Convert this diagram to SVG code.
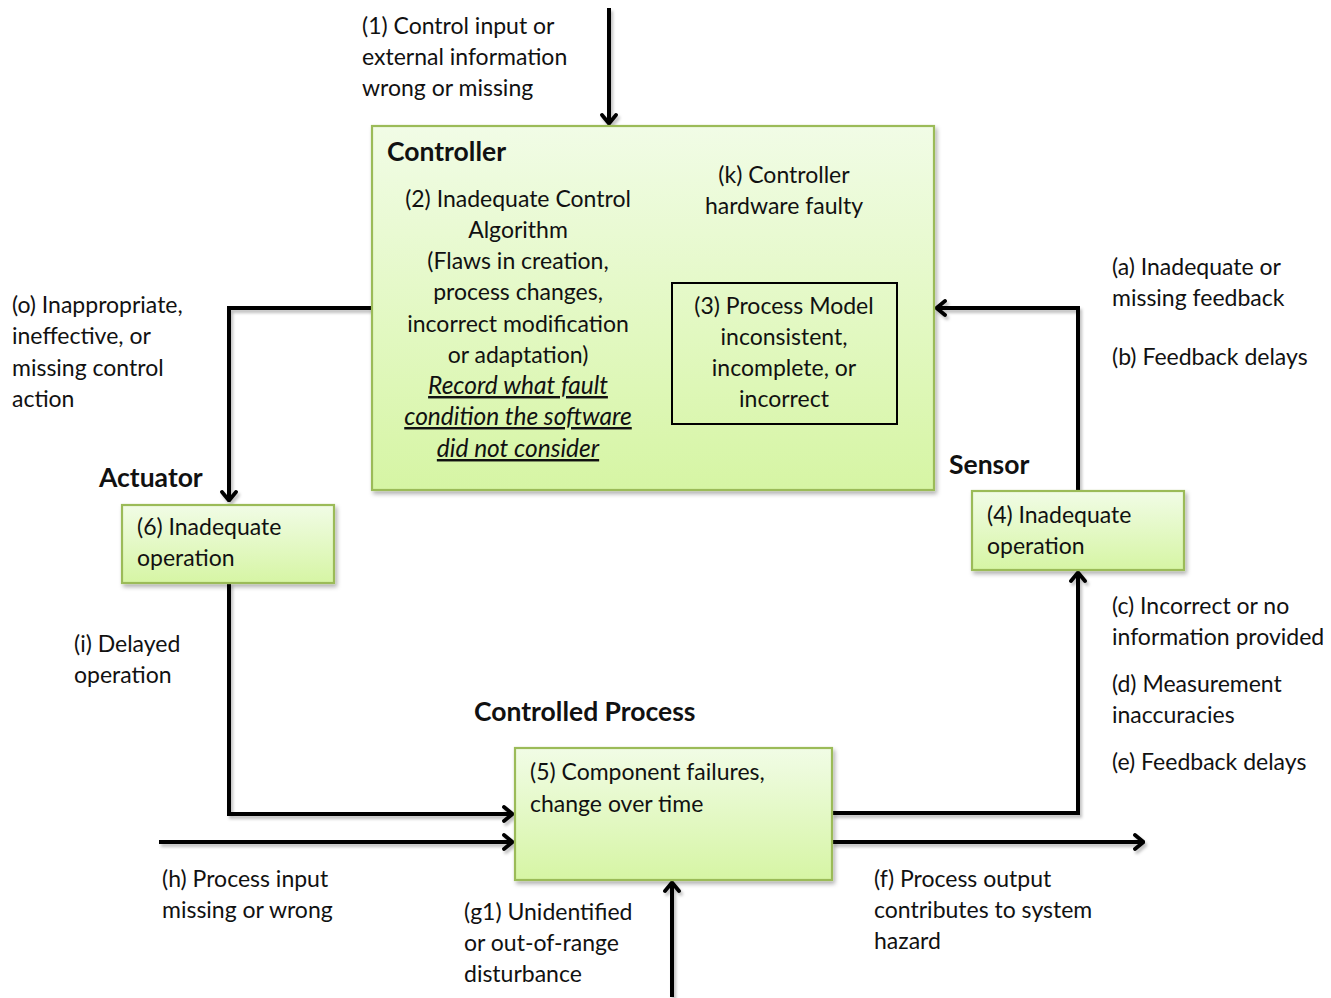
<svg xmlns="http://www.w3.org/2000/svg" width="1331" height="998" viewBox="0 0 1331 998">
  <defs>
    <linearGradient id="boxFill" x1="0" y1="0" x2="0" y2="1">
      <stop offset="0" stop-color="#f1fce6"/>
      <stop offset="1" stop-color="#d6f5a4"/>
    </linearGradient>
    <filter id="shadow" x="-10%" y="-10%" width="130%" height="130%">
      <feDropShadow dx="2" dy="3" stdDeviation="2" flood-color="#000" flood-opacity="0.3"/>
    </filter>
    <filter id="lineShadow" filterUnits="userSpaceOnUse" x="0" y="0" width="1331" height="998">
      <feDropShadow dx="2" dy="3" stdDeviation="1.5" flood-color="#000" flood-opacity="0.25"/>
    </filter>
    <marker id="arrow" viewBox="0 0 12 18" refX="11" refY="9" markerWidth="12" markerHeight="18" markerUnits="userSpaceOnUse" orient="auto">
      <path d="M2,2 L10.5,9 L2,16" fill="none" stroke="#000" stroke-width="3.8" stroke-linecap="round" stroke-linejoin="round"/>
    </marker>
    <style>
      text { font-family: Lato, "Open Sans", "Liberation Sans", sans-serif; font-size: 23px; fill: #111; }
      .b { font-weight: bold; font-size: 26.5px; }
      .c { text-anchor: middle; }
      .u { font-style: italic; text-decoration: underline; font-size: 24.5px; }
      .box { fill: url(#boxFill); stroke: #9bbb59; stroke-width: 2.2; filter: url(#shadow); }
      .conn path { fill: none; stroke: #000; stroke-width: 4; stroke-linejoin: miter; marker-end: url(#arrow); }
    </style>
  </defs>

  <!-- connectors -->
  <g id="connectors" class="conn" filter="url(#lineShadow)">
    <path d="M609,8 V124"/>
    <path d="M372,308 H229 V501"/>
    <path d="M229,583 V814 H513"/>
    <path d="M159,842 H513"/>
    <path d="M672,997 V882"/>
    <path d="M832,842 H1144"/>
    <path d="M832,813 H1078 V572"/>
    <path d="M1078,491 V308 H936"/>
  </g>

  <!-- controller -->
  <g id="controller">
    <rect class="box" x="372" y="126" width="562" height="364"/>
    <text class="b" x="387" y="161">Controller</text>
    <text class="c" x="518" y="207">(2) Inadequate Control</text>
    <text class="c" x="518" y="238">Algorithm</text>
    <text class="c" x="518" y="269">(Flaws in creation,</text>
    <text class="c" x="518" y="300">process changes,</text>
    <text class="c" x="518" y="332">incorrect modification</text>
    <text class="c" x="518" y="363">or adaptation)</text>
    <text class="c u" x="518" y="394">Record what fault</text>
    <text class="c u" x="518" y="425">condition the software</text>
    <text class="c u" x="518" y="457">did not consider</text>
    <text class="c" x="784" y="183">(k) Controller</text>
    <text class="c" x="784" y="214">hardware faulty</text>
  </g>

  <!-- process model -->
  <g id="process-model">
    <rect x="672" y="283" width="225" height="141" fill="none" stroke="#000" stroke-width="2"/>
    <text class="c" x="784" y="314">(3) Process Model</text>
    <text class="c" x="784" y="345">inconsistent,</text>
    <text class="c" x="784" y="376">incomplete, or</text>
    <text class="c" x="784" y="407">incorrect</text>
  </g>

  <!-- actuator -->
  <g id="actuator">
    <text class="b" x="99" y="487">Actuator</text>
    <rect class="box" x="122" y="505" width="212" height="78"/>
    <text x="137" y="535">(6) Inadequate</text>
    <text x="137" y="566">operation</text>
  </g>

  <!-- sensor -->
  <g id="sensor">
    <text class="b" x="949" y="474">Sensor</text>
    <rect class="box" x="972" y="491" width="212" height="79"/>
    <text x="987" y="523">(4) Inadequate</text>
    <text x="987" y="554">operation</text>
  </g>

  <!-- controlled process -->
  <g id="controlled-process">
    <text class="b" x="474" y="721">Controlled Process</text>
    <rect class="box" x="515" y="748" width="317" height="132"/>
    <text x="530" y="780">(5) Component failures,</text>
    <text x="530" y="812">change over time</text>
  </g>

  <!-- annotations -->
  <g id="labels">
    <text x="362" y="34">(1) Control input or</text>
    <text x="362" y="65">external information</text>
    <text x="362" y="96">wrong or missing</text>

    <text x="1112" y="275">(a) Inadequate or</text>
    <text x="1112" y="306">missing feedback</text>
    <text x="1112" y="365">(b) Feedback delays</text>

    <text x="12" y="313">(o) Inappropriate,</text>
    <text x="12" y="344">ineffective, or</text>
    <text x="12" y="376">missing control</text>
    <text x="12" y="407">action</text>

    <text x="1112" y="614">(c) Incorrect or no</text>
    <text x="1112" y="645">information provided</text>
    <text x="1112" y="692">(d) Measurement</text>
    <text x="1112" y="723">inaccuracies</text>
    <text x="1112" y="770">(e) Feedback delays</text>

    <text x="74" y="652">(i) Delayed</text>
    <text x="74" y="683">operation</text>

    <text x="162" y="887">(h) Process input</text>
    <text x="162" y="918">missing or wrong</text>

    <text x="464" y="920">(g1) Unidentified</text>
    <text x="464" y="951">or out-of-range</text>
    <text x="464" y="982">disturbance</text>

    <text x="874" y="887">(f) Process output</text>
    <text x="874" y="918">contributes to system</text>
    <text x="874" y="949">hazard</text>
  </g>
</svg>
